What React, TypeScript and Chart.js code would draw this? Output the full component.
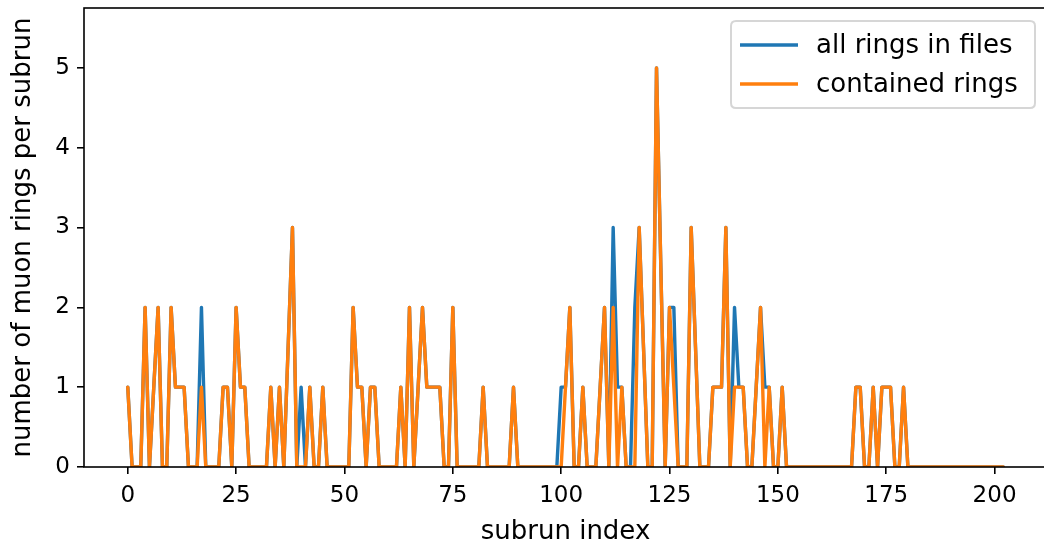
import React, { useEffect, useRef } from 'react';
import { Chart, registerables } from 'chart.js';

Chart.register(...registerables);

// ---- data ----
const subrunIndex = [
  0, 1, 2, 3, 4, 5, 6, 7, 8, 9,
  10, 11, 12, 13, 14, 15, 16, 17, 18, 19,
  20, 21, 22, 23, 24, 25, 26, 27, 28, 29,
  30, 31, 32, 33, 34, 35, 36, 37, 38, 39,
  40, 41, 42, 43, 44, 45, 46, 47, 48, 49,
  50, 51, 52, 53, 54, 55, 56, 57, 58, 59,
  60, 61, 62, 63, 64, 65, 66, 67, 68, 69,
  70, 71, 72, 73, 74, 75, 76, 77, 78, 79,
  80, 81, 82, 83, 84, 85, 86, 87, 88, 89,
  90, 91, 92, 93, 94, 95, 96, 97, 98, 99,
  100, 101, 102, 103, 104, 105, 106, 107, 108, 109,
  110, 111, 112, 113, 114, 115, 116, 117, 118, 119,
  120, 121, 122, 123, 124, 125, 126, 127, 128, 129,
  130, 131, 132, 133, 134, 135, 136, 137, 138, 139,
  140, 141, 142, 143, 144, 145, 146, 147, 148, 149,
  150, 151, 152, 153, 154, 155, 156, 157, 158, 159,
  160, 161, 162, 163, 164, 165, 166, 167, 168, 169,
  170, 171, 172, 173, 174, 175, 176, 177, 178, 179,
  180, 181, 182, 183, 184, 185, 186, 187, 188, 189,
  190, 191, 192, 193, 194, 195, 196, 197, 198, 199,
  200, 201, 202,
];

// null = subrun with no entry (line passes straight over it)
const allRingsInFiles = [
  1, 0, 0, 0, 2, 0, 1, 2, 0, 0,
  2, 1, 1, 1, 0, 0, 0, 2, 0, 0,
  0, 0, 1, 1, 0, 2, 1, 1, 0, 0,
  0, 0, 0, 1, 0, 1, 0, null, 3, 0,
  1, 0, 1, 0, 0, 1, 0, 0, 0, 0,
  0, 0, 2, 1, 1, 0, 1, 1, 0, 0,
  0, 0, 0, 1, 0, 2, 0, 1, 2, 1,
  1, 1, 1, 0, 0, 2, 0, 0, 0, 0,
  0, 0, 1, 0, 0, 0, 0, 0, 0, 1,
  0, 0, 0, 0, 0, 0, 0, 0, 0, 0,
  1, 1, 2, 0, 0, 1, 0, 0, 0, 1,
  2, 0, 3, 1, 1, 0, 0, 2, 3, null,
  0, 0, 5, null, 0, 2, 2, 0, 0, 0,
  3, null, 0, 0, 0, 1, 1, 1, 3, 0,
  2, 1, 1, 0, 0, 1, 2, 1, 1, 0,
  0, 1, 0, 0, 0, 0, 0, 0, 0, 0,
  0, 0, 0, 0, 0, 0, 0, 0, 1, 1,
  0, 0, 1, 0, 1, 1, 1, 0, 0, 1,
  0, 0, 0, 0, 0, 0, 0, 0, 0, 0,
  0, 0, 0, 0, 0, 0, 0, 0, 0, 0,
  0, 0, 0,
];

const containedRings = [
  1, 0, 0, 0, 2, 0, 1, 2, 0, 0,
  2, 1, 1, 1, 0, 0, 0, 1, 0, 0,
  0, 0, 1, 1, 0, 2, 1, 1, 0, 0,
  0, 0, 0, 1, 0, 1, 0, null, 3, 0,
  0, 0, 1, 0, 0, 1, 0, 0, 0, 0,
  0, 0, 2, 1, 1, 0, 1, 1, 0, 0,
  0, 0, 0, 1, 0, 2, 0, 1, 2, 1,
  1, 1, 1, 0, 0, 2, 0, 0, 0, 0,
  0, 0, 1, 0, 0, 0, 0, 0, 0, 1,
  0, 0, 0, 0, 0, 0, 0, 0, 0, 0,
  0, 1, 2, 0, 0, 1, 0, 0, 0, 1,
  2, 0, 2, 0, 1, 0, 0, 0, 3, null,
  0, 0, 5, null, 0, 2, 1, 0, 0, 0,
  3, null, 0, 0, 0, 1, 1, 1, 3, 0,
  1, 1, 1, 0, 0, 1, 2, 0, 1, 0,
  0, 1, 0, 0, 0, 0, 0, 0, 0, 0,
  0, 0, 0, 0, 0, 0, 0, 0, 1, 1,
  0, 0, 1, 0, 1, 1, 1, 0, 0, 1,
  0, 0, 0, 0, 0, 0, 0, 0, 0, 0,
  0, 0, 0, 0, 0, 0, 0, 0, 0, 0,
  0, 0, 0,
];

const seriesLabels = ['all rings in files', 'contained rings'];
const seriesColors = ['#1f77b4', '#ff7f0e'];
const xTickValues = [0, 25, 50, 75, 100, 125, 150, 175, 200];
const yTickValues = [0, 1, 2, 3, 4, 5];
const xAxisTitle = 'subrun index';
const yAxisTitle = 'number of muon rings per subrun';

const FONT = "'DejaVu Sans', 'Liberation Sans', sans-serif";
const LINE_W = 3.4;

const framePlugin = {
  id: 'frame',
  afterDraw(chart: any) {
    const { ctx, chartArea } = chart;
    const { left, right, top, bottom } = chartArea;
    ctx.save();
    ctx.strokeStyle = '#000';
    ctx.lineWidth = 1.6;
    ctx.strokeRect(left, top, right - left, bottom - top);
    ctx.restore();
  },
};

const legendPlugin = {
  id: 'mplLegend',
  afterDraw(chart: any) {
    const { ctx } = chart;
    const x0 = 731;
    const y0 = 21;
    const w = 304;
    const h = 87;
    const r = 5;
    ctx.save();
    ctx.beginPath();
    ctx.moveTo(x0 + r, y0);
    ctx.lineTo(x0 + w - r, y0);
    ctx.quadraticCurveTo(x0 + w, y0, x0 + w, y0 + r);
    ctx.lineTo(x0 + w, y0 + h - r);
    ctx.quadraticCurveTo(x0 + w, y0 + h, x0 + w - r, y0 + h);
    ctx.lineTo(x0 + r, y0 + h);
    ctx.quadraticCurveTo(x0, y0 + h, x0, y0 + h - r);
    ctx.lineTo(x0, y0 + r);
    ctx.quadraticCurveTo(x0, y0, x0 + r, y0);
    ctx.closePath();
    ctx.fillStyle = 'rgba(255,255,255,0.8)';
    ctx.fill();
    ctx.strokeStyle = 'rgba(204,204,204,0.8)';
    ctx.lineWidth = 2;
    ctx.stroke();

    const rows = [45, 84];
    chart.data.datasets.forEach((ds: any, i: number) => {
      const y = rows[i];
      ctx.beginPath();
      ctx.strokeStyle = ds.borderColor;
      ctx.lineWidth = LINE_W;
      ctx.moveTo(740, y);
      ctx.lineTo(798, y);
      ctx.stroke();
      ctx.fillStyle = '#000';
      ctx.font = `26px ${FONT}`;
      ctx.textAlign = 'left';
      ctx.textBaseline = 'middle';
      ctx.fillText(ds.label, 816, y + 1);
    });
    ctx.restore();
  },
};

export default function App() {
  const canvasRef = useRef<HTMLCanvasElement | null>(null);

  useEffect(() => {
    const canvas = canvasRef.current;
    if (!canvas) return;
    const makePoints = (arr: (number | null)[]) =>
      subrunIndex.map((x, i) => ({ x, y: arr[i] }));

    const chart = new Chart(canvas, {
      type: 'line',
      data: {
        datasets: [
          {
            label: seriesLabels[0],
            data: makePoints(allRingsInFiles),
            borderColor: seriesColors[0],
            backgroundColor: seriesColors[0],
            borderWidth: LINE_W,
            pointRadius: 0,
            tension: 0,
            spanGaps: true,
            order: 2,
            borderJoinStyle: 'round',
            borderCapStyle: 'round',
          } as any,
          {
            label: seriesLabels[1],
            data: makePoints(containedRings),
            borderColor: seriesColors[1],
            backgroundColor: seriesColors[1],
            borderWidth: LINE_W,
            pointRadius: 0,
            tension: 0,
            spanGaps: true,
            order: 1,
            borderJoinStyle: 'round',
            borderCapStyle: 'round',
          } as any,
        ],
      },
      options: {
        animation: false,
        responsive: false,
        devicePixelRatio: 1,
        layout: { padding: { left: 0, right: 0, top: 8, bottom: 0 } },
        plugins: {
          legend: { display: false },
          tooltip: { enabled: false },
        },
        scales: {
          x: {
            type: 'linear',
            min: -10.1,
            max: 212.1,
            border: { display: false },
            grid: {
              display: true,
              drawOnChartArea: false,
              drawTicks: true,
              tickLength: 7,
              color: '#000',
              lineWidth: 1.6,
            },
            ticks: {
              color: '#000',
              padding: 8,
              maxRotation: 0,
              font: { family: FONT, size: 23 },
            },
            title: {
              display: true,
              text: xAxisTitle,
              color: '#000',
              font: { family: FONT, size: 26, lineHeight: 1.2 },
              padding: { top: 0, bottom: 0 },
            },
            afterBuildTicks: (scale: any) => {
              scale.ticks = xTickValues.map((v) => ({ value: v }));
            },
            afterFit: (scale: any) => {
              scale.height = 81;
              scale.paddingLeft = 0;
              scale.paddingRight = 0;
              scale.paddingTop = 0;
              scale.paddingBottom = 0;
            },
          },
          y: {
            type: 'linear',
            min: 0,
            max: 5.75,
            border: { display: false },
            grid: {
              display: true,
              drawOnChartArea: false,
              drawTicks: true,
              tickLength: 7,
              color: '#000',
              lineWidth: 1.6,
            },
            ticks: {
              color: '#000',
              padding: 7,
              font: { family: FONT, size: 23 },
            },
            title: {
              display: true,
              text: yAxisTitle,
              color: '#000',
              font: { family: FONT, size: 26, lineHeight: 1.2 },
              padding: { top: 8, bottom: 0 },
            },
            afterBuildTicks: (scale: any) => {
              scale.ticks = yTickValues.map((v) => ({ value: v }));
            },
            afterFit: (scale: any) => {
              scale.width = 84;
              scale.paddingLeft = 0;
              scale.paddingRight = 0;
              scale.paddingTop = 0;
              scale.paddingBottom = 0;
            },
          },
        },
      },
      plugins: [framePlugin, legendPlugin],
    });
    return () => chart.destroy();
  }, []);

  return (
    <div
      style={{
        position: 'absolute',
        left: 0,
        top: 0,
        width: 1044,
        height: 548,
        overflow: 'hidden',
        background: '#fff',
      }}
    >
      <canvas ref={canvasRef} width={1047} height={548} style={{ display: 'block' }} />
    </div>
  );
}
